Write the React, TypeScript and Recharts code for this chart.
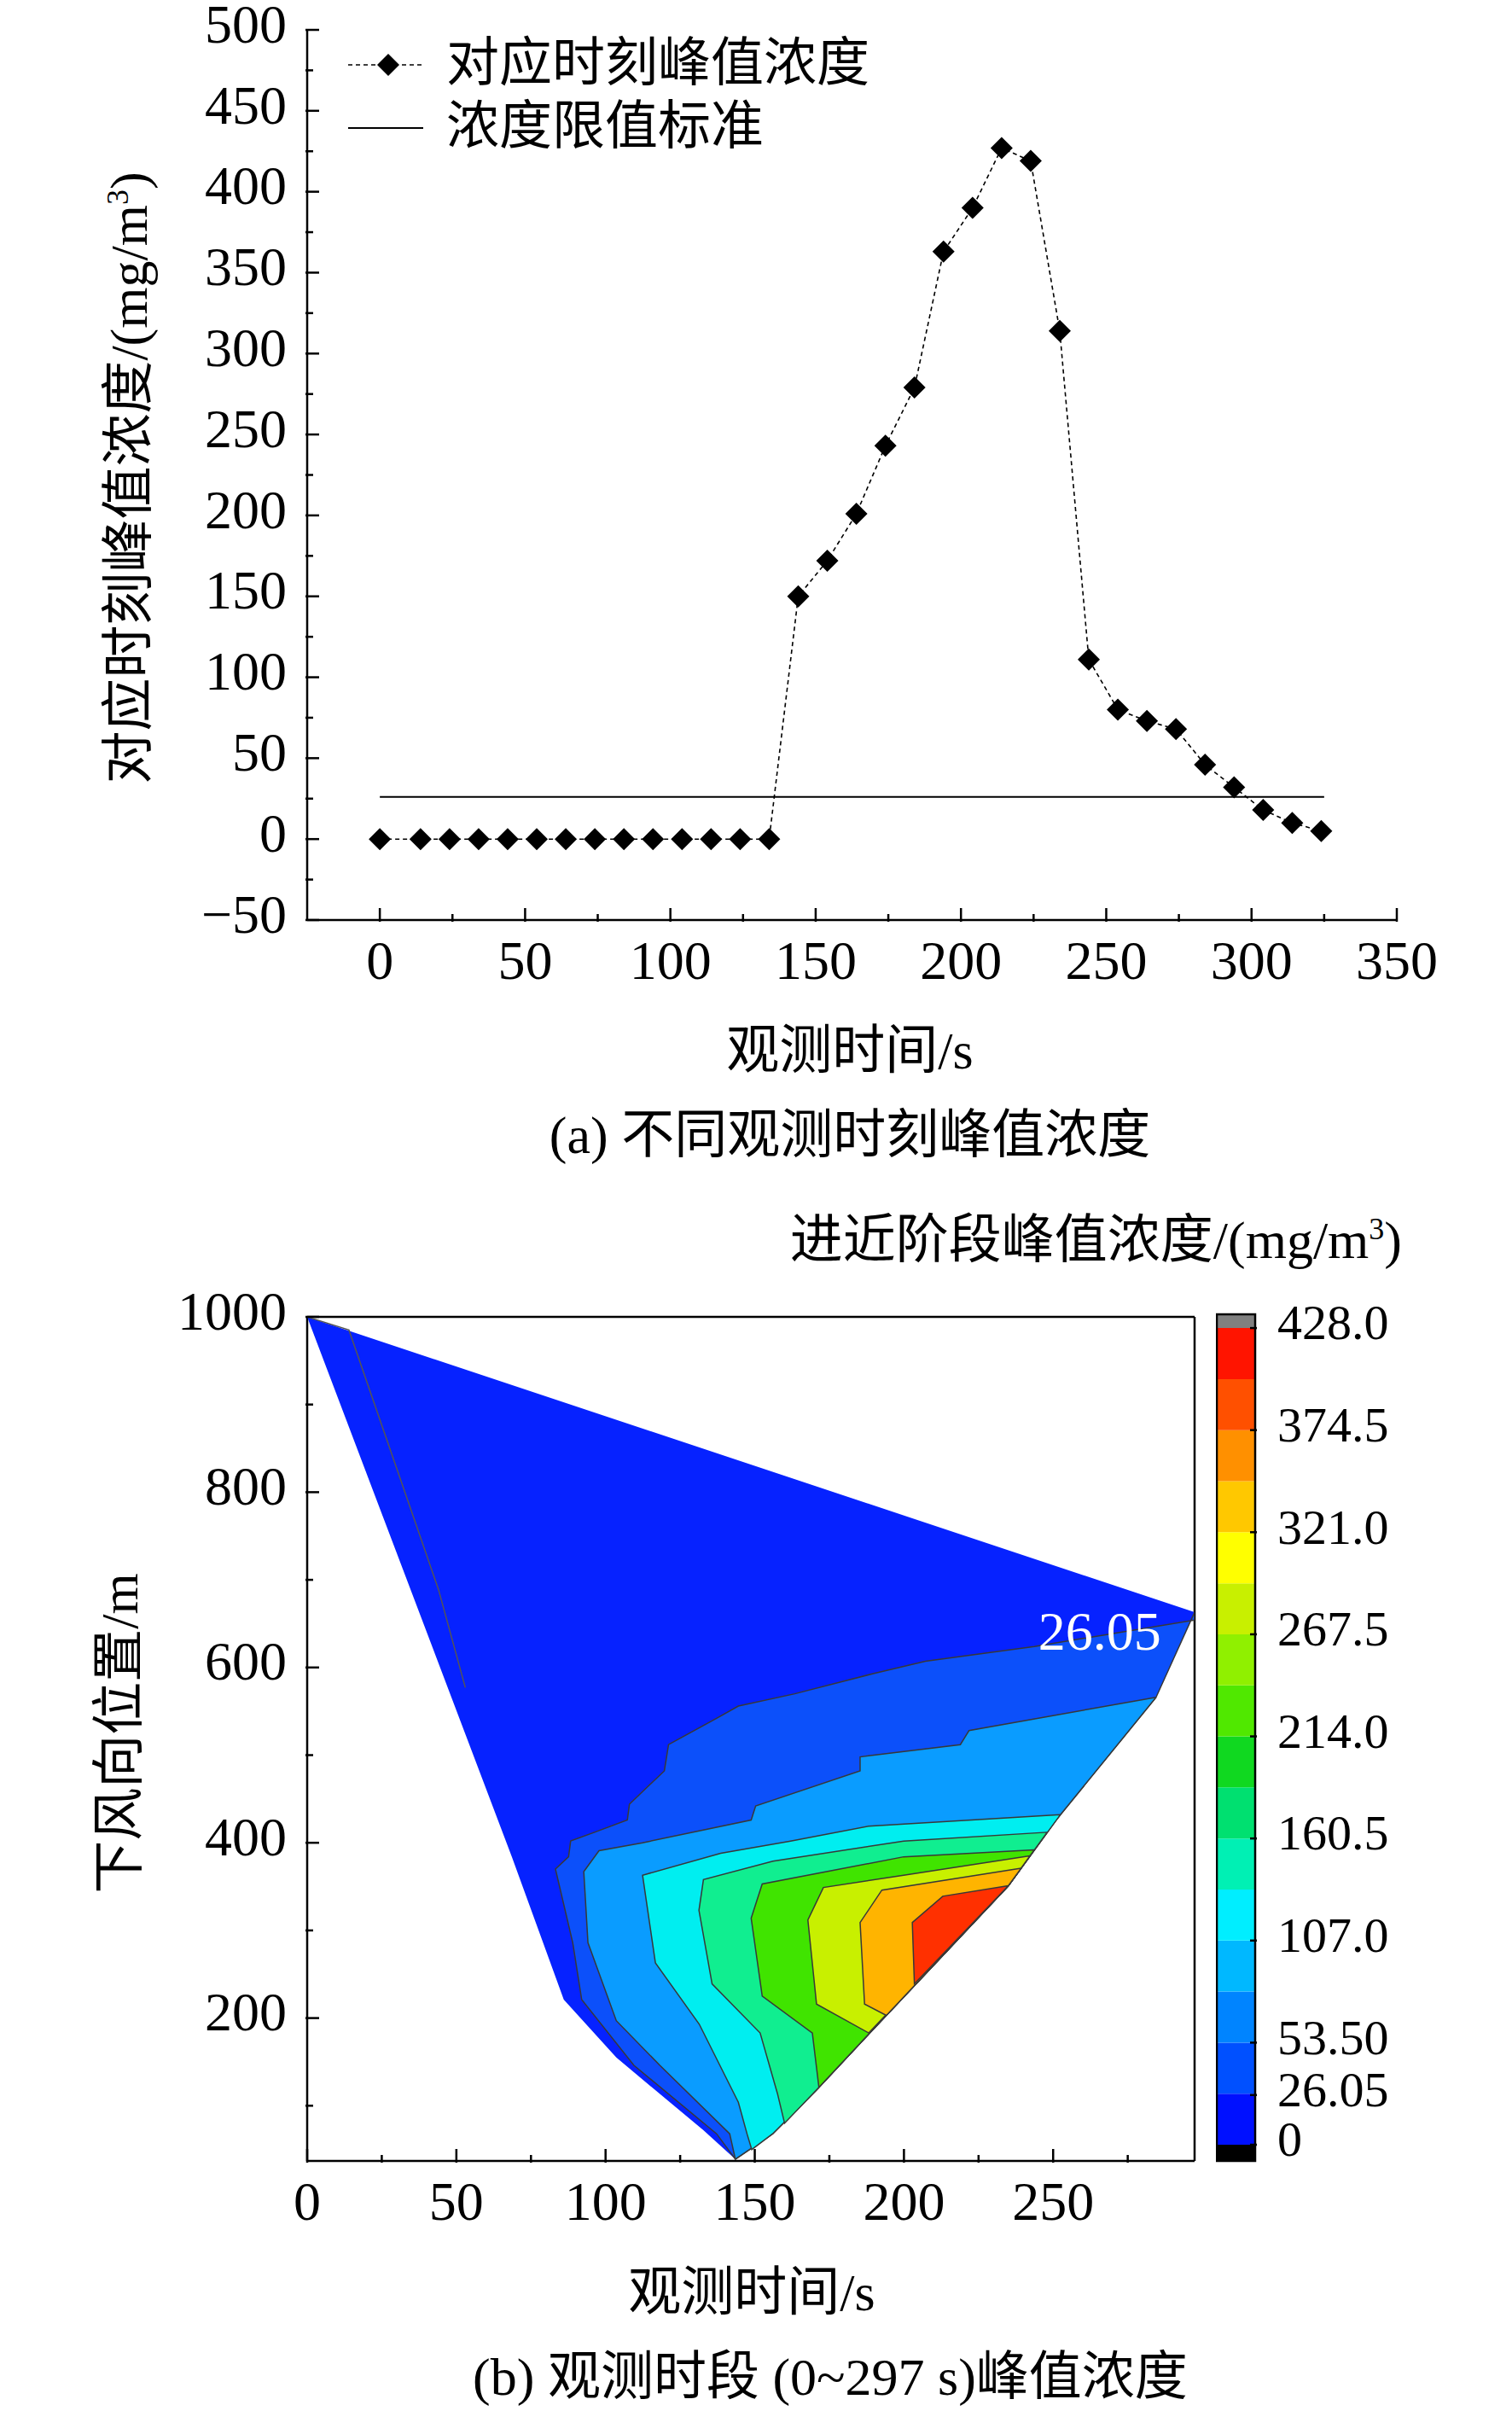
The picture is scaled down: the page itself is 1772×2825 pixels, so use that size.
import React from "react";
import {
  ComposedChart,
  Line,
  Scatter,
  ScatterChart,
  XAxis,
  YAxis,
  ReferenceArea,
  ReferenceDot,
} from "recharts";

const FONT = "'Liberation Serif', 'Noto Sans CJK SC', serif";
const FS = 64;

// ---- (a) peak concentration at each observation time
const times = [0, 14, 24, 34, 44, 54, 64, 74, 84, 94, 104, 114, 124, 134, 144, 154, 164, 174, 184, 194, 204, 214, 224, 234, 244, 254, 264, 274, 284, 294, 304, 314, 324];
const peaks = [0, 0, 0, 0, 0, 0, 0, 0, 0, 0, 0, 0, 0, 0, 150, 172, 201, 243, 279, 363, 390, 427, 419, 314, 111, 80, 73, 68, 46, 32, 18, 10, 5];
const limitX = [0, 325];
const limitValue = 26.05;
const topXTicks = [0, 25, 50, 75, 100, 125, 150, 175, 200, 225, 250, 275, 300, 325, 350];
const topYTicks = [-50, -25, 0, 25, 50, 75, 100, 125, 150, 175, 200, 225, 250, 275, 300, 325, 350, 375, 400, 425, 450, 475, 500];
const topYLabels = [-50, 0, 50, 100, 150, 200, 250, 300, 350, 400, 450, 500];

const peakData = times.map((t, i) => ({ t, peak: peaks[i] }));
const limitData = limitX.map((t) => ({ t, limit: limitValue }));

// ---- (b) contour regions, [time s, position m]; each region = value above its level
const domainShape = [[0, 1000], [297.4, 663], [284.5, 566], [251, 426], [235, 351], [188, 181], [170.7, 118], [156, 68], [143.5, 39], [132.8, 72], [103.6, 155], [86, 221], [68.6, 384], [0, 1000]];
const leftContour = [[0, 1000], [14, 985], [44, 689], [53, 577]];
const region26 = [[297.4, 663], [297.4, 654], [243.7, 624], [207.2, 607], [189.7, 593], [163.4, 570], [144.5, 556], [137.2, 542], [121.1, 512], [119.7, 482], [113.8, 463], [108, 444], [107.3, 426], [96.3, 412], [88.3, 402], [87.6, 384], [83.2, 370], [89, 286], [92, 221], [109.5, 146], [137.2, 68], [143.5, 39], [156, 68], [170.7, 118], [188, 181], [235, 351], [251, 426], [284.5, 566], [297.4, 663]];
const region53 = [[284.5, 566], [221.8, 528], [218.9, 512], [185.3, 498], [185.3, 482], [150.3, 442], [148.8, 426], [112.4, 400], [97.8, 391], [92.7, 367], [94.1, 286], [103.6, 197], [118.2, 146], [141.6, 68], [143.5, 39], [156, 68], [170.7, 118], [188, 181], [235, 351], [251, 426], [284.5, 566]];
const region107 = [[252.4, 432], [188.2, 419], [162, 402], [138.6, 388], [112.4, 363], [116.7, 263], [131.4, 193], [144.5, 104], [147.4, 68], [149, 50], [156, 68], [170.7, 118], [188, 181], [235, 351], [252.4, 432]];
const region160 = [[248, 412], [199.9, 402], [156.1, 379], [132.8, 358], [131.3, 323], [135.7, 239], [151.8, 183], [157.6, 114], [160, 80], [170.7, 118], [188, 181], [235, 351], [248, 412]];
const region214 = [[243.7, 392], [199.9, 384], [152.5, 353], [148.8, 314], [152.5, 225], [169.3, 183], [171.5, 121], [188, 181], [235, 351], [243.7, 392]];
const region267 = [[242.2, 385], [199.9, 363], [173, 349], [167.8, 312], [170.7, 216], [188.2, 183], [235, 351], [242.2, 385]];
const region321 = [[239.3, 371], [192.6, 346], [185.3, 309], [186.8, 216], [194.1, 203], [235, 351], [239.3, 371]];
const region374 = [[235, 351], [213, 339], [202.8, 309], [203.5, 239], [235, 351]];

const regions = [
  { pts: region26, fill: "#0c50fa" },
  { pts: region53, fill: "#0a9cff" },
  { pts: region107, fill: "#00eef0" },
  { pts: region160, fill: "#10ee90" },
  { pts: region214, fill: "#40e400" },
  { pts: region267, fill: "#c8f000" },
  { pts: region321, fill: "#ffb400" },
  { pts: region374, fill: "#ff3000" },
];
const contourLabel = { t: 265.6, pos: 642, text: "26.05" };

const botXTicks = [0, 25, 50, 75, 100, 125, 150, 175, 200, 225, 250, 275];
const botYTicks = [100, 200, 300, 400, 500, 600, 700, 800, 900, 1000];
const botYLabels = [200, 400, 600, 800, 1000];

// ---- colour bar
const barLevels = [0, 26.75, 53.5, 80.25, 107, 133.75, 160.5, 187.25, 214, 240.75, 267.5, 294.25, 321, 347.75, 374.5, 401.25, 428];
const barColors = ["#0010ff", "#0050ff", "#0084ff", "#00b8ff", "#00eeff", "#00f0b4", "#00e070", "#10d820", "#50e800", "#90f000", "#c8f000", "#ffff00", "#ffc800", "#ff9000", "#ff5000", "#ff1400"];
const barTicks = [0, 26.05, 53.5, 107, 160.5, 214, 267.5, 321, 374.5, 428];
const barTickText = ["0", "26.05", "53.50", "107.0", "160.5", "214.0", "267.5", "321.0", "374.5", "428.0"];
const barSpan = [{ x: 0, v: 0 }, { x: 1, v: 0 }];

const toXY = (pts: number[][]) => pts.map(([x, y]) => ({ x, y }));

function XTick(props: any) {
  const { x, y, payload, major } = props;
  const isMajor = payload.value % major === 0;
  return (
    <g>
      <line x1={x} x2={x} y1={y} y2={y - (isMajor ? 16 : 9)} stroke="#000" strokeWidth={2.5} />
      {isMajor && (
        <text x={x} y={y + 52} textAnchor="middle" dominantBaseline="middle" fontSize={FS} fontFamily={FONT} fill="#000">
          {payload.value}
        </text>
      )}
    </g>
  );
}

function YTick(props: any) {
  const { x, y, payload, labels } = props;
  const isMajor = labels.includes(payload.value);
  const txt = payload.value < 0 ? "\u2212" + Math.abs(payload.value) : String(payload.value);
  return (
    <g>
      <line x1={x} x2={x + (isMajor ? 16 : 9)} y1={y} y2={y} stroke="#000" strokeWidth={2.5} />
      {isMajor && (
        <text x={x - 22} y={y} textAnchor="end" dominantBaseline="middle" fontSize={FS} fontFamily={FONT} fill="#000">
          {txt}
        </text>
      )}
    </g>
  );
}

function BarTick(props: any) {
  const { x, y, payload } = props;
  const i = barTicks.indexOf(payload.value);
  return (
    <g>
      <line x1={x} x2={x - 8} y1={y} y2={y} stroke="#000" strokeWidth={2.5} />
      <text x={x + 24} y={y} textAnchor="start" dominantBaseline="middle" fontSize={58} fontFamily={FONT} fill="#000">
        {barTickText[i]}
      </text>
    </g>
  );
}

const Diamond = (props: any) => {
  const { cx, cy } = props;
  if (cx == null || cy == null) return <g />;
  const r = 13;
  return <path d={`M${cx},${cy - r}L${cx + r},${cy}L${cx},${cy + r}L${cx - r},${cy}Z`} fill="#000" />;
};

const Txt = ({ left, top, children, anchor = "middle", rotate = false }: any) => (
  <div
    style={{
      position: "absolute",
      left,
      top,
      transform: rotate
        ? "translate(-50%, -50%) rotate(-90deg)"
        : anchor === "end"
        ? "translate(-100%, -50%)"
        : anchor === "start"
        ? "translate(0, -50%)"
        : "translate(-50%, -50%)",
      fontSize: 62,
      fontFamily: FONT,
      whiteSpace: "nowrap",
      lineHeight: 1,
      color: "#000",
    }}
  >
    {children}
  </div>
);

const axisLine = { stroke: "#000", strokeWidth: 2.5 };
const sup3 = <sup style={{ fontSize: 36 }}>3</sup>;

export default function App() {
  return (
    <div style={{ position: "relative", width: 1772, height: 2825, margin: "-8px 0 0 -8px", background: "#fff", fontFamily: FONT, overflow: "hidden" }}>
      {/* (a) */}
      <div style={{ position: "absolute", left: 0, top: -12 }}>
        <ComposedChart width={1772} height={1172} margin={{ top: 47, left: 359, right: 135, bottom: 81 }} data={peakData}>
          <XAxis
            dataKey="t"
            type="number"
            domain={[-25, 350]}
            ticks={topXTicks}
            interval={0}
            height={1}
            tickSize={0}
            tickLine={false}
            axisLine={axisLine}
            tick={<XTick major={50} />}
            allowDataOverflow
          />
          <YAxis
            type="number"
            domain={[-50, 500]}
            ticks={topYTicks}
            interval={0}
            width={1}
            tickSize={0}
            tickLine={false}
            axisLine={axisLine}
            tick={<YTick labels={topYLabels} />}
            allowDataOverflow
          />
          <Line data={limitData} dataKey="limit" stroke="#000" strokeWidth={2} dot={false} isAnimationActive={false} />
          <Line dataKey="peak" stroke="#000" strokeWidth={1.6} strokeDasharray="5 4" dot={<Diamond />} isAnimationActive={false} />
        </ComposedChart>
      </div>
      {/* legend (a) */}
      <svg style={{ position: "absolute", left: 0, top: 0 }} width={600} height={200}>
        <line x1={408} x2={496} y1={76} y2={76} stroke="#000" strokeWidth={1.6} strokeDasharray="5 4" />
        <Diamond cx={455} cy={76} />
        <line x1={408} x2={496} y1={150} y2={150} stroke="#000" strokeWidth={2} />
      </svg>
      <Txt left={523} top={74} anchor="start">对应时刻峰值浓度</Txt>
      <Txt left={523} top={148} anchor="start">浓度限值标准</Txt>
      <Txt left={151} top={560} rotate>对应时刻峰值浓度/(mg/m{sup3})</Txt>
      <Txt left={996} top={1231}>观测时间/s</Txt>
      <Txt left={996} top={1330}>(a) 不同观测时刻峰值浓度</Txt>

      {/* (b) */}
      <div style={{ position: "absolute", left: 0, top: 1400 }}>
        <ScatterChart width={1772} height={1240} margin={{ top: 142, left: 359, right: 371, bottom: 107 }}>
          <XAxis
            dataKey="x"
            type="number"
            domain={[0, 297.4]}
            ticks={botXTicks}
            interval={0}
            height={1}
            tickSize={0}
            tickLine={false}
            axisLine={axisLine}
            tick={<XTick major={50} />}
            allowDataOverflow
          />
          <XAxis xAxisId="top" orientation="top" type="number" dataKey="x" domain={[0, 297.4]} height={1} tick={false} tickLine={false} axisLine={axisLine} />
          <YAxis
            dataKey="y"
            type="number"
            domain={[37, 1000]}
            ticks={botYTicks}
            interval={0}
            width={1}
            tickSize={0}
            tickLine={false}
            axisLine={axisLine}
            tick={<YTick labels={botYLabels} />}
            allowDataOverflow
          />
          <YAxis yAxisId="right" orientation="right" type="number" dataKey="y" domain={[37, 1000]} width={1} tick={false} tickLine={false} axisLine={axisLine} />
          <Scatter data={toXY(domainShape)} line={{ fill: "#0622ff", stroke: "none" }} shape={() => <g />} isAnimationActive={false} />
          <Scatter data={toXY(leftContour)} line={{ fill: "none", stroke: "#555", strokeWidth: 1.5 }} shape={() => <g />} isAnimationActive={false} />
          {regions.map((r, i) => (
            <Scatter
              key={i}
              data={toXY(r.pts)}
              line={{ fill: r.fill, stroke: "#383838", strokeWidth: 1.5 }}
              shape={() => <g />}
              isAnimationActive={false}
            />
          ))}
          <ReferenceDot
            x={contourLabel.t}
            y={contourLabel.pos}
            r={0}
            label={{ value: contourLabel.text, fill: "#fff", fontSize: FS, fontFamily: FONT }}
          />
        </ScatterChart>
      </div>
      {/* colour bar */}
      <div style={{ position: "absolute", left: 1425, top: 1490 }}>
        <ComposedChart width={348} height={1092} data={barSpan} margin={{ top: 50, left: 1, right: 301, bottom: 50 }}>
          <XAxis dataKey="x" type="number" domain={[0, 1]} hide />
          <YAxis
            orientation="right"
            type="number"
            domain={[-8.5, 435.2]}
            ticks={barTicks}
            interval={0}
            width={1}
            tickSize={0}
            tickLine={false}
            axisLine={false}
            tick={<BarTick />}
            allowDataOverflow
          />
          <Line dataKey="v" stroke="none" dot={false} isAnimationActive={false} />
          <ReferenceArea x1={0} x2={1} y1={-8.5} y2={0} fill="#000" fillOpacity={1} stroke="none" ifOverflow="visible" />
          {barColors.map((c, i) => (
            <ReferenceArea key={i} x1={0} x2={1} y1={barLevels[i]} y2={barLevels[i + 1]} fill={c} fillOpacity={1} stroke="none" ifOverflow="visible" />
          ))}
          <ReferenceArea x1={0} x2={1} y1={428} y2={435.2} fill="#808080" fillOpacity={1} stroke="none" ifOverflow="visible" />
          <ReferenceArea x1={0} x2={1} y1={-8.5} y2={435.2} fill="none" stroke="#000" strokeWidth={2.5} ifOverflow="visible" />
        </ComposedChart>
      </div>
      <Txt left={1643} top={1453} anchor="end">进近阶段峰值浓度/(mg/m{sup3})</Txt>
      <Txt left={140} top={2031} rotate>下风向位置/m</Txt>
      <Txt left={881} top={2686}>观测时间/s</Txt>
      <Txt left={973} top={2785}>(b) 观测时段 (0~297 s)峰值浓度</Txt>
    </div>
  );
}
